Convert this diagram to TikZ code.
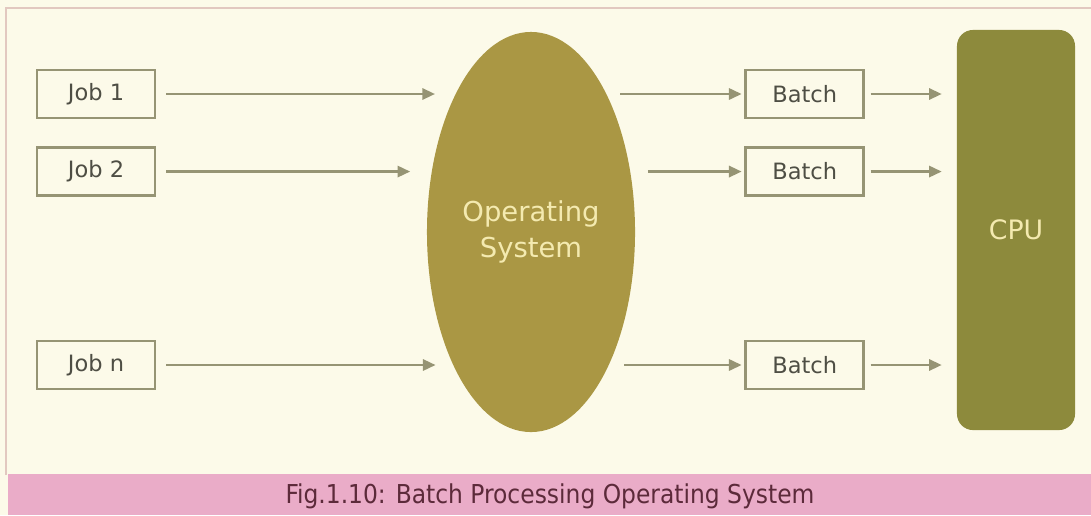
\documentclass[tikz,border=0pt]{standalone}
\usepackage{fontspec}
\setmainfont{DejaVu Sans}
\newfontfamily\capfont{DejaVu Sans Condensed}
\usepackage{tikz}
\usetikzlibrary{arrows.meta, positioning, shapes.geometric}
\definecolor{paper}{RGB}{252,250,233}
\definecolor{band}{RGB}{234,172,200}
\definecolor{rim}{RGB}{226,200,192}
\definecolor{olive}{RGB}{170,151,68}
\definecolor{moss}{RGB}{141,138,60}
\definecolor{boxline}{RGB}{150,148,116}
\definecolor{boxtext}{RGB}{78,78,68}
\definecolor{pale}{RGB}{244,234,176}
\definecolor{captext}{RGB}{92,42,58}
\newcommand{\boxwidth}{2.95cm}
\tikzset{
    %Define standard arrow tip
    >={Triangle[length=9pt,width=8pt]},
    %Define style for boxes
    kasse/.style={
           rectangle,
           draw=boxline, line width=1.8pt,
           fill=paper,
           text=boxtext,
           font=\fontsize{16}{18}\selectfont,
           minimum width=\boxwidth,
           minimum height=1.2cm,
           text centered},
    % Define arrow style
    pil/.style={
           ->,
           draw=boxline,
           line width=1.7pt,
           shorten <=7pt,
           shorten >=2pt,}
}
\begin{document}
\begin{tikzpicture}[node distance=0cm, auto, x=0.025cm, y=-0.025cm]

% Styles for the big shapes
\tikzstyle{osnode}=[ellipse, fill=olive, minimum width=5.2cm, minimum height=10cm, inner sep=0pt, text=pale, align=center, font=\fontsize{19.5}{25.6}\selectfont]

\tikzstyle{cpunode}=[rectangle, rounded corners=0.4cm, fill=moss, minimum width=\boxwidth, minimum height=10cm, text=pale, font=\fontsize{19}{22}\selectfont]

\tikzstyle{caption}=[text=captext, font=\capfont\fontsize{18.5}{20}\selectfont]

% Paper, frame and caption band
\useasboundingbox (0,0) rectangle (1091,515);
\fill[paper] (0,0) rectangle (1091,515);
\fill[band] (8,474) rectangle (1091,515);
\draw[rim, line width=1.2pt] (6,475) -- (6,8) -- (1091,8);

% Jobs
\node[kasse] (job1) at (96,94) {Job 1};
\node[kasse] (job2) [below = 0.675cm of job1] {Job 2};
\node[kasse] (jobn) at (96,365) {Job n};
% Operating system and CPU
\node[osnode] (os) at (531,232) {Operating\\System};
\node[cpunode] (cpu) at (1016,230) {CPU};
% Batches
\node[kasse] (b1) [right = 14.7cm of job1] {Batch};
\node[kasse] (b2) [right = 14.7cm of job2] {Batch};
\node[kasse] (bn) [right = 14.7cm of jobn] {Batch};
% Caption
\node[caption] (cap) at (550,496) {Fig.1.10: Batch Processing Operating System};

\path
% jobs into the operating system
(job1.east) edge[pil, shorten >=0.5cm] (job1.east -| os.119)
(job2.east) edge[pil, shorten >=0.55cm] (job2.east -| os.147)
(jobn.east) edge[pil, shorten >=0.45cm] (jobn.east -| os.240)
% operating system into batches
(b1.west -| os.61) edge[pil, shorten <=0.33cm] (b1.west)
(b2.west -| os.33) edge[pil, shorten <=0.45cm] (b2.west)
(bn.west -| os.300) edge[pil, shorten <=0.4cm] (bn.west)
% batches into the CPU
(b1.east) edge[pil, shorten <=4pt, shorten >=0.375cm] (b1.east -| cpu.west)
(b2.east) edge[pil, shorten <=4pt, shorten >=0.375cm] (b2.east -| cpu.west)
(bn.east) edge[pil, shorten <=4pt, shorten >=0.375cm] (bn.east -| cpu.west);

\end{tikzpicture}
\end{document}
